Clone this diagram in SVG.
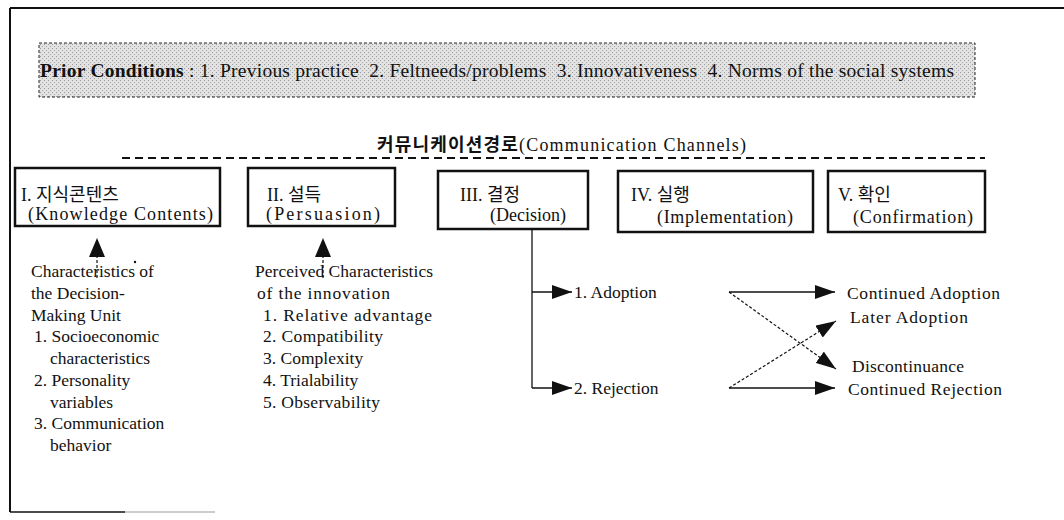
<svg xmlns="http://www.w3.org/2000/svg" width="1064" height="520" viewBox="0 0 1064 520">
  <style>
    text { font-family: "Liberation Serif", "Noto Sans CJK KR", serif; fill: #111; }
    .prior { font-size: 19.5px; }
    .lbl { font-size: 18px; }
    .body { font-size: 17.5px; }
    .box { fill: #fff; stroke: #111; stroke-width: 2.5; }
    .solid { stroke: #111; stroke-width: 1.3; fill: none; }
    .dotted { stroke: #111; stroke-width: 1.2; fill: none; stroke-dasharray: 3 2; }
    .head { fill: #111; }
  </style>
  <defs>
    <marker id="arr" viewBox="0 0 20 14" refX="20" refY="7" markerWidth="20" markerHeight="14" markerUnits="userSpaceOnUse" orient="auto">
      <path d="M0 0 L20 7 L0 14 Z" class="head"/>
    </marker>
    <pattern id="halftone" width="4" height="4" patternUnits="userSpaceOnUse">
      <rect width="4" height="4" fill="#e2e2e2"/>
      <rect x="0" y="0" width="1" height="1" fill="#9a9a9a"/>
      <rect x="2" y="2" width="1" height="1" fill="#a8a8a8"/>
    </pattern>
  </defs>

  <rect width="1064" height="520" fill="#fff"/>

  <!-- outer frame -->
  <g id="frame" fill="none" stroke="#111">
    <line x1="10" y1="8" x2="1064" y2="8" stroke-width="2"/>
    <line x1="10" y1="8" x2="10" y2="512" stroke-width="2"/>
    <line x1="10" y1="512" x2="125" y2="512" stroke-width="1.6"/>
    <line x1="125" y1="512" x2="215" y2="512" stroke="#999" stroke-width="1"/>
  </g>

  <!-- prior conditions -->
  <g id="prior">
    <rect x="39" y="43" width="936" height="54" fill="url(#halftone)" stroke="#222" stroke-width="1" stroke-dasharray="3 2"/>
    <text class="prior" x="40" y="77" textLength="914" lengthAdjust="spacing"><tspan font-weight="bold">Prior Conditions</tspan> : 1. Previous practice&#160; 2. Feltneeds/problems&#160; 3. Innovativeness&#160; 4. Norms of the social systems</text>
  </g>

  <!-- communication channels -->
  <g id="channels">
    <text class="lbl" x="377" y="151" textLength="369" lengthAdjust="spacing"><tspan font-weight="bold">커뮤니케이션경로</tspan>(Communication Channels)</text>
    <line x1="122" y1="158" x2="985" y2="158" stroke="#111" stroke-width="2" stroke-dasharray="8 5"/>
  </g>

  <!-- stage boxes -->
  <g id="stage1">
    <rect class="box" x="15" y="168" width="205" height="58"/>
    <text class="lbl" x="21" y="201">I. 지식콘텐츠</text>
    <text class="lbl" x="28" y="220" textLength="185" lengthAdjust="spacing">(Knowledge Contents)</text>
  </g>
  <g id="stage2">
    <rect class="box" x="248" y="168" width="147" height="58"/>
    <text class="lbl" x="267" y="201">II. 설득</text>
    <text class="lbl" x="266" y="220" textLength="114" lengthAdjust="spacing">(Persuasion)</text>
  </g>
  <g id="stage3">
    <rect class="box" x="438" y="171" width="150" height="58"/>
    <text class="lbl" x="460" y="201">III. 결정</text>
    <text class="lbl" x="490" y="221">(Decision)</text>
  </g>
  <g id="stage4">
    <rect class="box" x="618" y="171" width="195" height="61"/>
    <text class="lbl" x="631" y="201">IV. 실행</text>
    <text class="lbl" x="657" y="223" textLength="136" lengthAdjust="spacing">(Implementation)</text>
  </g>
  <g id="stage5">
    <rect class="box" x="828" y="171" width="157" height="61"/>
    <text class="lbl" x="838" y="201">V. 확인</text>
    <text class="lbl" x="853" y="223" textLength="120" lengthAdjust="spacing">(Confirmation)</text>
  </g>

  <!-- knowledge characteristics -->
  <g id="unit-chars">
    <text class="body" x="31" y="277">Characteristics of</text>
    <text class="body" x="31" y="299">the Decision-</text>
    <text class="body" x="31" y="321">Making Unit</text>
    <text class="body" x="34" y="342">1. Socioeconomic</text>
    <text class="body" x="50" y="364">characteristics</text>
    <text class="body" x="34" y="386">2. Personality</text>
    <text class="body" x="50" y="408">variables</text>
    <text class="body" x="34" y="429">3. Communication</text>
    <text class="body" x="50" y="451">behavior</text>
    <circle cx="135" cy="262" r="1.2" fill="#111"/>
  </g>

  <!-- persuasion characteristics -->
  <g id="innovation-chars">
    <text class="body" x="255" y="277" textLength="178" lengthAdjust="spacing">Perceived Characteristics</text>
    <text class="body" x="257" y="299" textLength="133" lengthAdjust="spacing">of the innovation</text>
    <text class="body" x="263" y="321" textLength="169" lengthAdjust="spacing">1. Relative advantage</text>
    <text class="body" x="263" y="342" textLength="120" lengthAdjust="spacing">2. Compatibility</text>
    <text class="body" x="263" y="364">3. Complexity</text>
    <text class="body" x="263" y="386">4. Trialability</text>
    <text class="body" x="263" y="408" textLength="117" lengthAdjust="spacing">5. Observability</text>
  </g>

  <!-- decision outcomes -->
  <g id="decision-outcomes">
    <text class="body" x="574" y="298">1. Adoption</text>
    <text class="body" x="574" y="394">2. Rejection</text>
  </g>

  <!-- confirmation outcomes -->
  <g id="confirm-outcomes">
    <text class="body" x="847" y="299" textLength="153" lengthAdjust="spacing">Continued Adoption</text>
    <text class="body" x="850" y="323" textLength="118" lengthAdjust="spacing">Later Adoption</text>
    <text class="body" x="852" y="372" textLength="112" lengthAdjust="spacing">Discontinuance</text>
    <text class="body" x="848" y="395" textLength="154" lengthAdjust="spacing">Continued Rejection</text>
  </g>

  <!-- connectors -->
  <g id="connectors">
    <!-- dotted influences into stages I and II -->
    <line class="dotted" x1="97" y1="278" x2="97" y2="256"/>
    <path class="head" d="M97 238 L105 257 L89 257 Z"/>
    <line class="dotted" x1="323" y1="278" x2="323" y2="256"/>
    <path class="head" d="M323 238 L331 257 L315 257 Z"/>

    <!-- decision branches -->
    <polyline class="solid" points="532,229 532,388"/>
    <line class="solid" x1="532" y1="292" x2="572" y2="292" marker-end="url(#arr)"/>
    <line class="solid" x1="532" y1="388" x2="572" y2="388" marker-end="url(#arr)"/>

    <!-- confirmation paths -->
    <line class="solid" x1="729" y1="292" x2="835" y2="292" marker-end="url(#arr)"/>
    <line class="solid" x1="729" y1="388" x2="835" y2="388" marker-end="url(#arr)"/>
    <line class="dotted" x1="729" y1="292" x2="836" y2="369" marker-end="url(#arr)"/>
    <line class="dotted" x1="729" y1="388" x2="836" y2="321" marker-end="url(#arr)"/>
  </g>
</svg>
